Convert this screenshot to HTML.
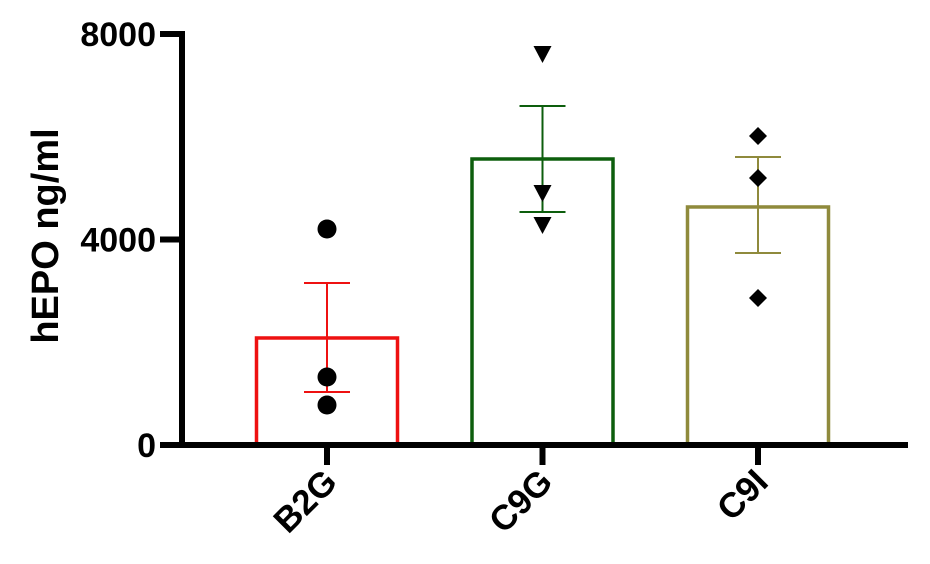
<!DOCTYPE html>
<html><head><meta charset="utf-8"><style>
body{margin:0;background:#fff}
svg text{font-family:"Liberation Sans",Arial,sans-serif;font-weight:bold;fill:#000}
</style></head><body>
<svg width="930" height="559" viewBox="0 0 930 559" id="chart"></svg>
<script>
const categories=["B2G","C9G","C9I"];
const means=[2083,5567,4633];
const errLow=[1032,4535,3737];
const errHigh=[3153,6599,5606];
const points=[[4204,1323,778],[7611,4905,4282],[6015,5197,2861]];
const colors=["#ee1111","#0d5e0d","#8f8a3c"];
const yTicks=[0,4000,8000];
const yTickLabels=["0","4000","8000"];
const NS="http://www.w3.org/2000/svg";
const svg=document.getElementById('chart');
const y0=445,yTop=34,ymax=8000;
const y=v=>y0-(v/ymax)*(y0-yTop);
const xC=i=>327+i*215.5;
const bw=141;
function mk(t,a,p){const e=document.createElementNS(NS,t);for(const k in a)e.setAttribute(k,a[k]);(p||svg).appendChild(e);return e;}
categories.forEach((c,i)=>{
  const g=mk('g',{});
  
  
  const xc=xC(i);
  mk('rect',{x:xc-bw/2,y:y(means[i]),width:bw,height:y0-y(means[i]),fill:'none',stroke:colors[i],'stroke-width':3.5},g);
  const eb=mk('path',{d:`M${xc},${y(errLow[i])}V${y(errHigh[i])}M${xc-23},${y(errHigh[i])}H${xc+23}M${xc-23},${y(errLow[i])}H${xc+23}`,stroke:colors[i],'stroke-width':2,fill:'none'},g);
  
  
  points[i].forEach(v=>{
    const py=y(v);let m;
    if(i===0)m=mk('circle',{cx:xc,cy:py,r:9.5,fill:'#000'},g);
    else if(i===1)m=mk('path',{d:`M${xc-9},${py-8}H${xc+9}L${xc},${py+9}Z`,fill:'#000'},g);
    else m=mk('path',{d:`M${xc},${py-9}L${xc+9},${py}L${xc},${py+9}L${xc-9},${py}Z`,fill:'#000'},g);
    
    
  });
  const t=mk('path',{d:`M${xc},${y0}V465`,stroke:'#000','stroke-width':6});
  
  
  const l=mk('text',{'font-size':35,'text-anchor':'end',transform:`translate(${xc+12},484) rotate(-45)`});
  l.textContent=c;
  
  
});
const ax=mk('path',{d:`M182,${yTop-3}V${y0}M160,${y0}H908`,stroke:'#000','stroke-width':6,fill:'none'});


yTicks.forEach((v,i)=>{
  const t=mk('path',{d:`M160,${y(v)}H182`,stroke:'#000','stroke-width':6});
  
  
  const l=mk('text',{x:156,y:y(v)+12,'font-size':34,'text-anchor':'end'});
  l.textContent=yTickLabels[i];
  
  
});
const yt=mk('text',{'font-size':38,'text-anchor':'middle',transform:'translate(58,236) rotate(-90)'});
yt.textContent='hEPO ng/ml';


</script>
</body></html>
